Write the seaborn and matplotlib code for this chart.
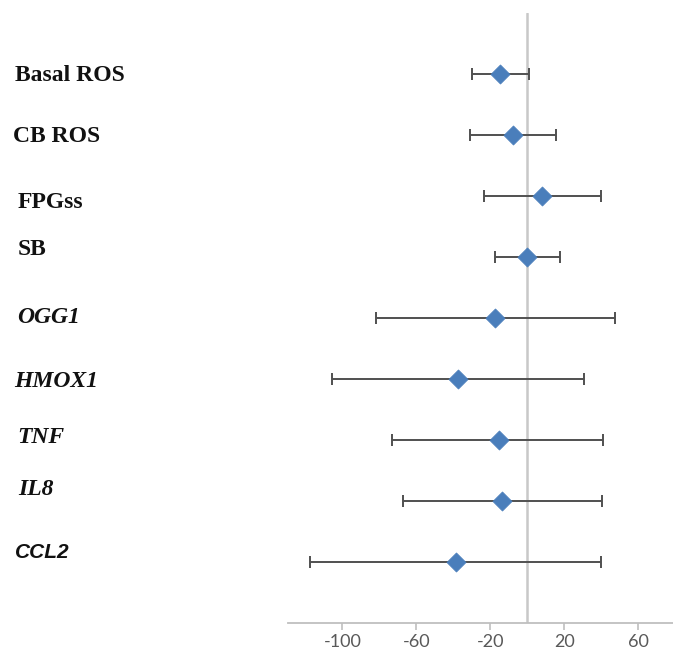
import numpy as np
import pandas as pd
import matplotlib
matplotlib.use("Agg")
import matplotlib.pyplot as plt
import matplotlib.transforms as mtransforms
import seaborn as sns

# ---- data ----
labels = ["Basal ROS", "CB ROS", "FPGss", "SB", "OGG1", "HMOX1", "TNF", "IL8", "CCL2"]
estimate = [-14.6, -7.9, 8.1, -0.2, -17.5, -37.3, -15.5, -13.5, -38.7]
lower = [-30.1, -31.1, -23.2, -17.3, -82.0, -105.4, -73.3, -67.0, -117.5]
upper = [0.8, 15.7, 39.8, 17.8, 47.4, 30.5, 41.1, 40.4, 39.7]
xticks = [-100, -60, -20, 20, 60]

# ---- layout/style (not data) ----
label_style = ["bold", "bold", "bold", "bold", "bi", "bi", "bi", "bi", "sans_bi"]
label_dy_px = [1, 1, 6, -8, -1, 2, -3, -12, -10]
label_x_px = [15, 13, 18, 18, 17, 14, 17, 18, 15]

df = pd.DataFrame({"label": labels, "est": estimate, "lo": lower, "hi": upper})
df["row"] = np.arange(len(df))

sns.set_theme(style="white")
W, H = 673, 652
fig = plt.figure(figsize=(W / 100, H / 100), dpi=100)
ax = fig.add_axes([288 / W, 1 - 622.5 / H, 1 - 288 / W, (622.5 - 13) / H])

# zero reference line
ax.axvline(0, color="#c8c8c8", lw=1.8, zorder=1)

# error bars
ax.errorbar(df["est"], df["row"],
            xerr=[df["est"] - df["lo"], df["hi"] - df["est"]],
            fmt="none", ecolor="#505050", elinewidth=1.4, capsize=4,
            capthick=1.4, zorder=2)

# points
sns.scatterplot(data=df, x="est", y="row", marker="D", s=95, color="#4a7ebb",
                edgecolor="#4a7ebb", linewidth=0.5, ax=ax, zorder=3, legend=False)

ax.set_xlim(-129.4, 78.7)
ax.set_ylim(8.987, -1.005)
ax.set_xticks(xticks)
ax.set_xticklabels([str(t) for t in xticks], fontsize=13, color="#595959",
                   family=["Lato", "DejaVu Sans"])
ax.set_yticks([])
ax.set_xlabel("")
ax.set_ylabel("")
for s in ["top", "right", "left"]:
    ax.spines[s].set_visible(False)
ax.spines["bottom"].set_color("#bfbfbf")
ax.spines["bottom"].set_linewidth(1.3)
ax.tick_params(axis="x", direction="out", length=5, width=1.2, color="#bfbfbf",
               pad=3, bottom=True)

# row labels
trans = mtransforms.blended_transform_factory(fig.transFigure, ax.transData)
for i, (lab, st) in enumerate(zip(labels, label_style)):
    offset = mtransforms.ScaledTranslation(0, -label_dy_px[i] / 100, fig.dpi_scale_trans)
    kw = dict(fontsize=17, color="#111111", va="center", ha="left")
    if st == "bold":
        kw.update(family=["Liberation Serif", "DejaVu Serif"], weight="bold")
    elif st == "bi":
        kw.update(family=["Liberation Serif", "DejaVu Serif"], weight="bold", style="italic")
    else:
        kw.update(family=["Liberation Sans", "DejaVu Sans"], weight="bold", style="italic",
                  fontsize=15)
    ax.text(label_x_px[i] / W, i, lab, transform=trans + offset, **kw)

fig.savefig("out.png", dpi=100, facecolor="white")
